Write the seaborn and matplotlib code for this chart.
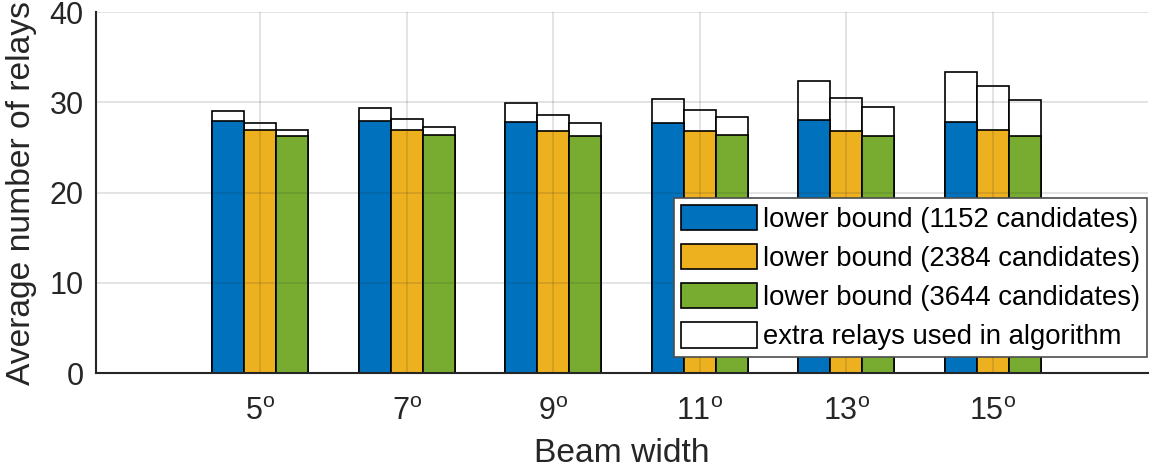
import matplotlib
matplotlib.use("Agg")
import matplotlib.pyplot as plt
from matplotlib.patches import Patch
import seaborn as sns
import pandas as pd

# ---- data ----
beam_widths = ["5", "7", "9", "11", "13", "15"]
series_names = ["lower bound (1152 candidates)",
                "lower bound (2384 candidates)",
                "lower bound (3644 candidates)"]
extra_name = "extra relays used in algorithm"

base_1152 = [27.9, 27.9, 27.85, 27.7, 28.0, 27.8]
base_2384 = [26.9, 26.9, 26.85, 26.8, 26.8, 26.9]
base_3644 = [26.3, 26.35, 26.3, 26.35, 26.3, 26.25]

extra_1152 = [1.1, 1.5, 2.05, 2.7, 4.4, 5.5]
extra_2384 = [0.75, 1.2, 1.75, 2.3, 3.7, 4.9]
extra_3644 = [0.65, 0.95, 1.4, 2.05, 3.15, 4.05]

x_tick_labels = [r"%s$^{\mathregular{o}}$" % b for b in beam_widths]
y_ticks = [0, 10, 20, 30, 40]

colors = ["#0072BD", "#EDB120", "#77AC30"]

# ---- build long table ----
rows = []
for name, base, extra in zip(series_names,
                             [base_1152, base_2384, base_3644],
                             [extra_1152, extra_2384, extra_3644]):
    for bw, b, e in zip(beam_widths, base, extra):
        rows.append({"beam": bw, "series": name, "base": b, "total": b + e})
df = pd.DataFrame(rows)

# ---- style ----
sns.set_style("white")
plt.rcParams["font.family"] = ["Liberation Sans", "DejaVu Sans"]
plt.rcParams["mathtext.default"] = "regular"
plt.rcParams["mathtext.fontset"] = "custom"
plt.rcParams["mathtext.rm"] = "Liberation Sans"
axis_col = "#262626"

fig = plt.figure(figsize=(11.58, 4.73), dpi=100)
ax = fig.add_axes([96 / 1158, 1 - 373 / 473, (1148 - 96) / 1158, (373 - 12) / 473])

bar_w = 0.655
sns.barplot(data=df, x="beam", y="total", hue="series", order=beam_widths,
            hue_order=series_names, palette=["white"] * 3, saturation=1,
            width=bar_w, errorbar=None, edgecolor="black", linewidth=1.2,
            legend=False, ax=ax)
sns.barplot(data=df, x="beam", y="base", hue="series", order=beam_widths,
            hue_order=series_names, palette=colors, saturation=1,
            width=bar_w, errorbar=None, edgecolor="black", linewidth=1.2,
            legend=False, ax=ax)

ax.set_xlim(-1.12, 6.06)
ax.set_ylim(0, 40)
ax.set_yticks(y_ticks)
ax.set_xticks(range(len(beam_widths)))
ax.set_xticklabels(x_tick_labels)

ax.set_axisbelow(False)
ax.grid(True, color="#262626", alpha=0.15, linewidth=1.2)

for s in ["top", "right"]:
    ax.spines[s].set_visible(False)
for s in ["left", "bottom"]:
    ax.spines[s].set_color(axis_col)
    ax.spines[s].set_linewidth(1.5)
    ax.spines[s].set_zorder(5)

ax.tick_params(axis="both", direction="in", length=8, width=1.2,
               colors=axis_col, labelsize=22, labelcolor=axis_col)
ax.tick_params(axis="y", pad=9)
ax.tick_params(axis="x", pad=17)

ax.set_xlabel("Beam width", fontsize=24.2, color=axis_col, labelpad=8)
ax.set_ylabel("Average number of relays", fontsize=24.2, color=axis_col, labelpad=9)

handles = [Patch(facecolor=c, edgecolor="black", linewidth=1.2) for c in colors]
handles.append(Patch(facecolor="white", edgecolor="black", linewidth=1.2))
leg = ax.legend(handles, series_names + [extra_name], loc="lower right",
                bbox_to_anchor=(0.999, 0.044), fontsize=19.8, frameon=True,
                fancybox=False, framealpha=1, edgecolor="#4d4d4d",
                handlelength=2.76, handleheight=1.05, handletextpad=0.22,
                labelspacing=0.4, borderpad=0.25, borderaxespad=0,
                labelcolor="black")
leg.get_frame().set_linewidth(1.2)
leg.set_zorder(10)

fig.savefig("out.png", dpi=100)
